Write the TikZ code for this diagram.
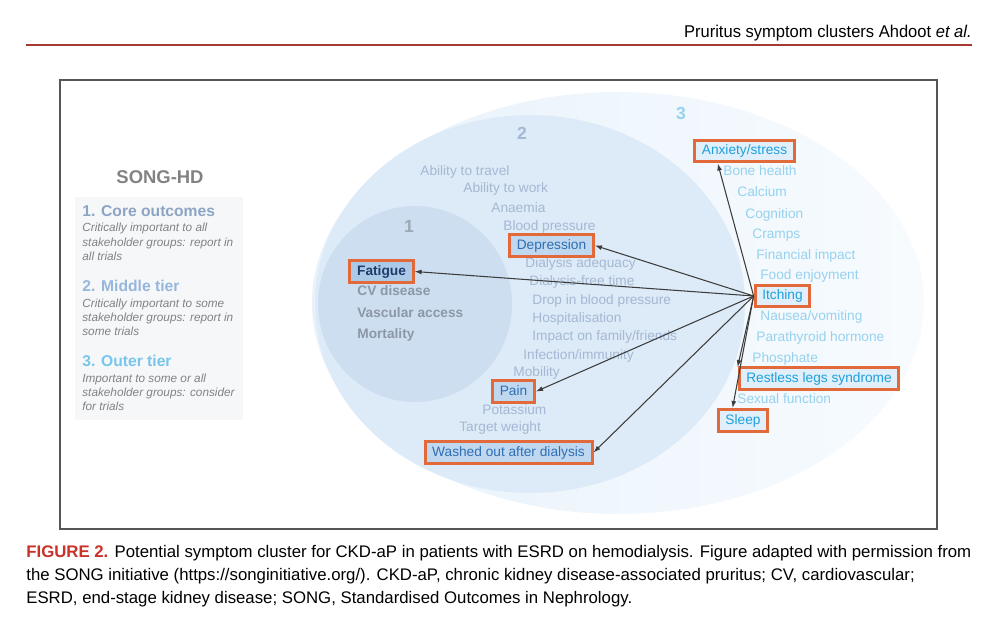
\documentclass[tikz,border=0pt]{standalone}
\usepackage{fontspec}
\setmainfont{Liberation Sans}
\newfontfamily\condfont[FakeStretch=0.97]{Liberation Sans}
\usetikzlibrary{arrows.meta,positioning}
\definecolor{headred}{RGB}{166,58,50}
\definecolor{framegray}{RGB}{85,85,85}
\definecolor{tierone}{RGB}{205,222,240}
\definecolor{tiertwo}{RGB}{221,234,247}
\definecolor{tierthreeL}{RGB}{232,242,251}
\definecolor{tierthreeR}{RGB}{247,251,254}
\definecolor{hiorange}{RGB}{226,106,58}
\definecolor{boxone}{RGB}{172,202,232}
\definecolor{boxtwo}{RGB}{192,216,239}
\definecolor{boxthree}{RGB}{224,239,250}
\definecolor{navytext}{RGB}{30,60,105}
\definecolor{midblue}{RGB}{46,110,180}
\definecolor{skyblue}{RGB}{30,160,220}
\definecolor{greyone}{RGB}{140,152,168}
\definecolor{greytwo}{RGB}{165,184,212}
\definecolor{lightsky}{RGB}{150,210,240}
\definecolor{arrowgray}{RGB}{60,60,60}
\definecolor{panelgray}{RGB}{246,247,249}
\definecolor{legendgray}{RGB}{130,130,130}
\definecolor{legendone}{RGB}{140,165,196}
\definecolor{legendtwo}{RGB}{150,182,220}
\definecolor{legendthree}{RGB}{120,198,235}
\definecolor{captionred}{RGB}{200,50,40}

\begin{document}
\begin{tikzpicture}[
x=0.02cm, y=-0.02cm,
itemone/.style={anchor=west, inner sep=0pt, text=greyone, text height=5.6pt, text depth=1.6pt, font=\fontsize{7.8}{9}\selectfont\bfseries},
itemtwo/.style={anchor=west, inner sep=0pt, text=greytwo, text height=5.6pt, text depth=1.6pt, font=\fontsize{7.8}{9}\selectfont},
itemthree/.style={anchor=west, inner sep=0pt, text=lightsky, text height=5.6pt, text depth=1.6pt, font=\fontsize{7.8}{9}\selectfont},
hibox/.style={draw=hiorange, line width=1.7pt, inner xsep=4.1pt, inner ysep=1pt, minimum height=12.5pt, text height=5.6pt, text depth=1.6pt, font=\fontsize{7.8}{9}\selectfont},
tiernum/.style={font=\fontsize{10}{12}\selectfont\bfseries},
legendhead/.style={anchor=west, inner sep=0pt, font=\fontsize{8.9}{10}\selectfont\bfseries},
legendtext/.style={anchor=north west, inner sep=0pt, align=left, text=legendgray, font=\fontsize{6.7}{8.2}\selectfont\itshape},
link/.style={-{Latex[length=4pt,width=2.8pt]}, arrowgray, line width=0.6pt}
]
\useasboundingbox (0,0) rectangle (996,618);

% header and frame
\node[anchor=base east, inner sep=0pt, font=\condfont\fontsize{9.7}{11}\selectfont] (head) at (972,38) {Pruritus symptom clusters Ahdoot \textit{et al.}};
\draw[headred, line width=1.7pt] (26,45) -- (972,45);
\draw[framegray, line width=1pt] (60,80) rectangle (937,529);

% tiers
\shade[left color=tierthreeL, right color=tierthreeR] (618,303) ellipse [x radius=306, y radius=211];
\fill[tiertwo] (530,304) ellipse [x radius=215, y radius=189];
\fill[tierone] (415,304) ellipse [x radius=97, y radius=98];

\node[tiernum, text=greyone!85] (n1) at (409,226) {1};
\node[tiernum, text=greytwo] (n2) at (522,133) {2};
\node[tiernum, text=lightsky] (n3) at (681,113) {3};

% legend
\node[font=\fontsize{10.5}{12}\selectfont\bfseries, text=legendgray] (song) at (160,177) {SONG-HD};
\fill[panelgray] (75,197) rectangle (243,420);
\node[legendhead, text=legendone] (core) at (82,211) {1. Core outcomes};
\node[legendtext, below=3.5pt of core.south west, anchor=north west] (coretxt) {Critically important to all\\stakeholder groups: report in\\all trials};
\node[legendhead, text=legendtwo] (middle) at (82,286) {2. Middle tier};
\node[legendtext, below=3.5pt of middle.south west, anchor=north west] (middletxt) {Critically important to some\\stakeholder groups: report in\\some trials};
\node[legendhead, text=legendthree] (outer) at (82,361) {3. Outer tier};
\node[legendtext, below=3.5pt of outer.south west, anchor=north west] (outertxt) {Important to some or all\\stakeholder groups: consider\\for trials};

% plain outcomes
\foreach \x/\y/\t [count=\i] in {357/292/{CV disease}, 357/314/{Vascular access}, 357/335/{Mortality}}
  \node[itemone] (one-\i) at (\x,\y) {\t};
\foreach \x/\y/\t [count=\i] in {420/172/{Ability to travel}, 463/189/{Ability to work}, 491/209/{Anaemia},
    503/227/{Blood pressure}, 525/264/{Dialysis adequacy}, 529/282/{Dialysis-free time},
    532/301/{Drop in blood pressure}, 532/319/{Hospitalisation}, 532/337/{Impact on family/friends},
    523/356/{Infection/immunity}, 513/373/{Mobility}, 482/411/{Potassium}, 459/428/{Target weight}}
  \node[itemtwo] (two-\i) at (\x,\y) {\t};
\foreach \x/\y/\t [count=\i] in {723/172/{Bone health}, 737/193/{Calcium}, 745/215/{Cognition},
    752/235/{Cramps}, 756/256/{Financial impact}, 760/276/{Food enjoyment}, 760/317/{Nausea/vomiting},
    756/338/{Parathyroid hormone}, 752/359/{Phosphate}, 737/400/{Sexual function}}
  \node[itemthree] (three-\i) at (\x,\y) {\t};

% symptom cluster
\node[hibox, fill=boxone, text=navytext, font=\fontsize{7.8}{9}\selectfont\bfseries] (fatigue) at (381.5,271.5) {Fatigue};
\node[hibox, fill=boxtwo, text=midblue] (depression) at (551.5,245.5) {Depression};
\node[hibox, fill=boxtwo, text=midblue] (pain) at (513.5,391.5) {Pain};
\node[hibox, fill=boxtwo, text=midblue] (washed) at (508.5,452.5) {Washed out after dialysis};
\node[hibox, fill=boxthree, text=skyblue] (anxiety) at (744.5,151) {Anxiety/stress};
\node[hibox, fill=boxthree, text=skyblue] (itching) at (782.5,296) {Itching};
\node[hibox, fill=boxthree, text=skyblue] (restless) at (819,378.5) {Restless legs syndrome};
\node[hibox, fill=boxthree, text=skyblue] (sleep) at (743,420.5) {Sleep};

\draw[link] (itching.west) -- (anxiety.205);
\draw[link] (itching.west) -- (depression.east);
\draw[link] (itching.west) -- (fatigue.east);
\draw[link] (itching.west) -- (pain.east);
\draw[link] (itching.west) -- (washed.east);
\draw[link] (itching.west) -- (restless.172);
\draw[link] (itching.west) -- (sleep.130);

% caption
\node[anchor=north west, inner sep=0pt, align=left, font=\fontsize{9.55}{13}\selectfont] (caption) at (26,545)
  {{\bfseries\color{captionred}FIGURE 2.} Potential symptom cluster for CKD-aP in patients with ESRD on hemodialysis. Figure adapted with permission from\\
   the SONG initiative (https://songinitiative.org/). CKD-aP, chronic kidney disease-associated pruritus; CV, cardiovascular;\\
   ESRD, end-stage kidney disease; SONG, Standardised Outcomes in Nephrology.};
\end{tikzpicture}
\end{document}
